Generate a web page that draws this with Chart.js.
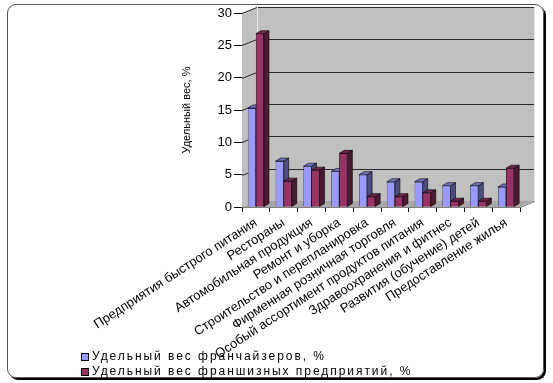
<!DOCTYPE html>
<html>
<head>
<meta charset="utf-8">
<script src="https://cdn.jsdelivr.net/npm/chart.js@4/dist/chart.umd.min.js"></script>
<style>
  html, body { margin: 0; padding: 0; background: #fff; }
  #wrap { position: relative; width: 553px; height: 383px; overflow: hidden; }
  #frame { position: absolute; left: 7px; top: 4px; width: 535px; height: 372px;
           border: 1px solid #555; border-radius: 9px; box-shadow: 2px 2px 0 #000; }
  canvas { position: absolute; left: 0; top: 0; }
  #legend { position: absolute; left: 81px; top: 349px; font-family: "Liberation Sans", Arial, sans-serif;
            font-size: 12px; letter-spacing: 1.95px; color: #000; line-height: 15px; }
  #legend .item { display: flex; align-items: center; white-space: nowrap; }
  #legend .box { width: 6px; height: 6px; border: 1px solid #000; margin-right: 3px; }
</style>
</head>
<body>
<div id="wrap">
  <div id="frame"></div>
  <canvas id="c" width="553" height="383"></canvas>
  <div id="legend"></div>
</div>
<script>
const categories = [
  "Предприятия быстрого питания",
  "Рестораны",
  "Автомобильная продукция",
  "Ремонт и уборка",
  "Строительство и перепланировка",
  "Фирменная розничная торговля",
  "Особый ассортимент продуктов питания",
  "Здравоохранения и фитнес",
  "Развития (обучение) детей",
  "Предоставление жилья"
];
const seriesNames = ["Удельный вес франчайзеров, %", "Удельный вес франшизных предприятий, %"];
const franchisors = [15.3, 7.1, 6.3, 5.5, 5.0, 3.9, 3.9, 3.3, 3.3, 3.1];
const franchisees = [26.8, 4.0, 5.7, 8.3, 1.6, 1.6, 2.2, 0.9, 0.9, 6.0];
const yTicks = [0, 5, 10, 15, 20, 25, 30];
const axisTitle = "Удельный вес, %";

const frontColors = ["#9999FF", "#993366"];
const sideColors = ["#4D4D80", "#4D1A33"];
const topColors = ["#7373BF", "#73264D"];

const DX = 15, DY = -6;   // wall depth
const BDX = 5, BDY = -3;  // bar depth

function drawBarDepth(ctx, bar, i) {
  const p = bar.getProps(["x", "y", "base", "width"], true);
  const l = p.x - p.width / 2, r = p.x + p.width / 2;
  ctx.strokeStyle = "#000"; ctx.lineWidth = 0.6;
  ctx.beginPath();
  ctx.moveTo(r, p.y); ctx.lineTo(r + BDX, p.y + BDY); ctx.lineTo(r + BDX, p.base + BDY); ctx.lineTo(r, p.base); ctx.closePath();
  ctx.fillStyle = sideColors[i]; ctx.fill(); ctx.stroke();
  ctx.beginPath();
  ctx.moveTo(l, p.y); ctx.lineTo(l + BDX, p.y + BDY); ctx.lineTo(r + BDX, p.y + BDY); ctx.lineTo(r, p.y); ctx.closePath();
  ctx.fillStyle = topColors[i]; ctx.fill(); ctx.stroke();
}

const walls = {
  id: "walls",
  beforeDatasetsDraw(chart) {
    const ctx = chart.ctx, a = chart.chartArea, ys = chart.scales.y;
    const L = a.left, R = a.right, T = ys.getPixelForValue(30), B = ys.getPixelForValue(0);
    ctx.save();
    ctx.fillStyle = "#C0C0C0";
    ctx.fillRect(L + DX, T + DY, R - L, B - T);
    ctx.beginPath();
    ctx.moveTo(L, B); ctx.lineTo(L, T); ctx.lineTo(L + DX, T + DY); ctx.lineTo(L + DX, B + DY); ctx.closePath();
    ctx.fillStyle = "#C0C0C0"; ctx.fill();
    ctx.beginPath();
    ctx.moveTo(L, B); ctx.lineTo(R, B); ctx.lineTo(R + DX, B + DY); ctx.lineTo(L + DX, B + DY); ctx.closePath();
    ctx.fillStyle = "#A8A8A8"; ctx.fill();
    ctx.strokeStyle = "#2a2a2a"; ctx.lineWidth = 1;
    yTicks.forEach(v => {
      if (v === 0) return;
      const y = Math.round(ys.getPixelForValue(v)) + 0.5;
      ctx.beginPath();
      ctx.moveTo(L, y); ctx.lineTo(L + DX, y + DY); ctx.lineTo(R + DX, y + DY);
      ctx.stroke();
    });
    ctx.strokeStyle = "#E8E8E8";
    ctx.beginPath();
    ctx.moveTo(L + DX + 0.5, B + DY); ctx.lineTo(L + DX + 0.5, T + DY);
    ctx.moveTo(R + DX - 0.5, T + DY); ctx.lineTo(R + DX - 0.5, B + DY);
    ctx.stroke();
    ctx.strokeStyle = "#808080";
    ctx.beginPath();
    ctx.moveTo(L, B + 0.5); ctx.lineTo(R, B + 0.5); ctx.lineTo(R + DX, B + DY + 0.5);
    ctx.stroke();
    ctx.restore();
  },
  afterDatasetsDraw(chart) {
    const ctx = chart.ctx;
    const m0 = chart.getDatasetMeta(0), m1 = chart.getDatasetMeta(1);
    ctx.save();
    m0.data.forEach((bar, j) => {
      drawBarDepth(ctx, bar, 0);
      m1.data[j].draw(ctx);          // red front face again, over the blue side
      drawBarDepth(ctx, m1.data[j], 1);
    });
    ctx.restore();
  }
};

const font = { family: "'Liberation Sans', Arial, sans-serif", size: 11 };

new Chart(document.getElementById("c"), {
  type: "bar",
  data: {
    labels: categories,
    datasets: [
      { label: seriesNames[0], data: franchisors, backgroundColor: frontColors[0], borderColor: "#000", borderWidth: 0.6 },
      { label: seriesNames[1], data: franchisees, backgroundColor: frontColors[1], borderColor: "#000", borderWidth: 0.6 }
    ]
  },
  options: {
    responsive: false,
    animation: false,
    events: [],
    layout: { padding: { left: 176, top: 13, right: 33, bottom: 0 } },
    datasets: { bar: { categoryPercentage: 0.58, barPercentage: 1.0 } },
    plugins: { legend: { display: false }, tooltip: { enabled: false } },
    scales: {
      x: {
        grid: { display: true, drawOnChartArea: false, color: "#000", tickLength: 5, offset: true },
        border: { display: true, color: "#000" },
        ticks: { autoSkip: false, maxRotation: 33, minRotation: 33, color: "#000", font: { ...font, size: 13 }, padding: 3 },
        afterFit(s) { s.height = 176; }
      },
      y: {
        min: 0, max: 30,
        afterBuildTicks(s) { s.ticks = yTicks.map(v => ({ value: v })); },
        grid: { display: true, drawOnChartArea: false, color: "#000", tickLength: 8 },
        border: { display: true, color: "#000" },
        ticks: { color: "#000", font: { ...font, size: 13 }, padding: 2 },
        title: { display: true, text: axisTitle, color: "#000", font: { ...font, size: 11 }, padding: { top: 4, bottom: 4 } },
        afterFit(s) { s.width = 66; }
      }
    }
  },
  plugins: [walls]
});

const lg = document.getElementById("legend");
seriesNames.forEach((n, i) => {
  const d = document.createElement("div"); d.className = "item";
  const b = document.createElement("span"); b.className = "box"; b.style.background = frontColors[i];
  const t = document.createElement("span"); t.textContent = n;
  d.appendChild(b); d.appendChild(t); lg.appendChild(d);
});
</script>
</body>
</html>
